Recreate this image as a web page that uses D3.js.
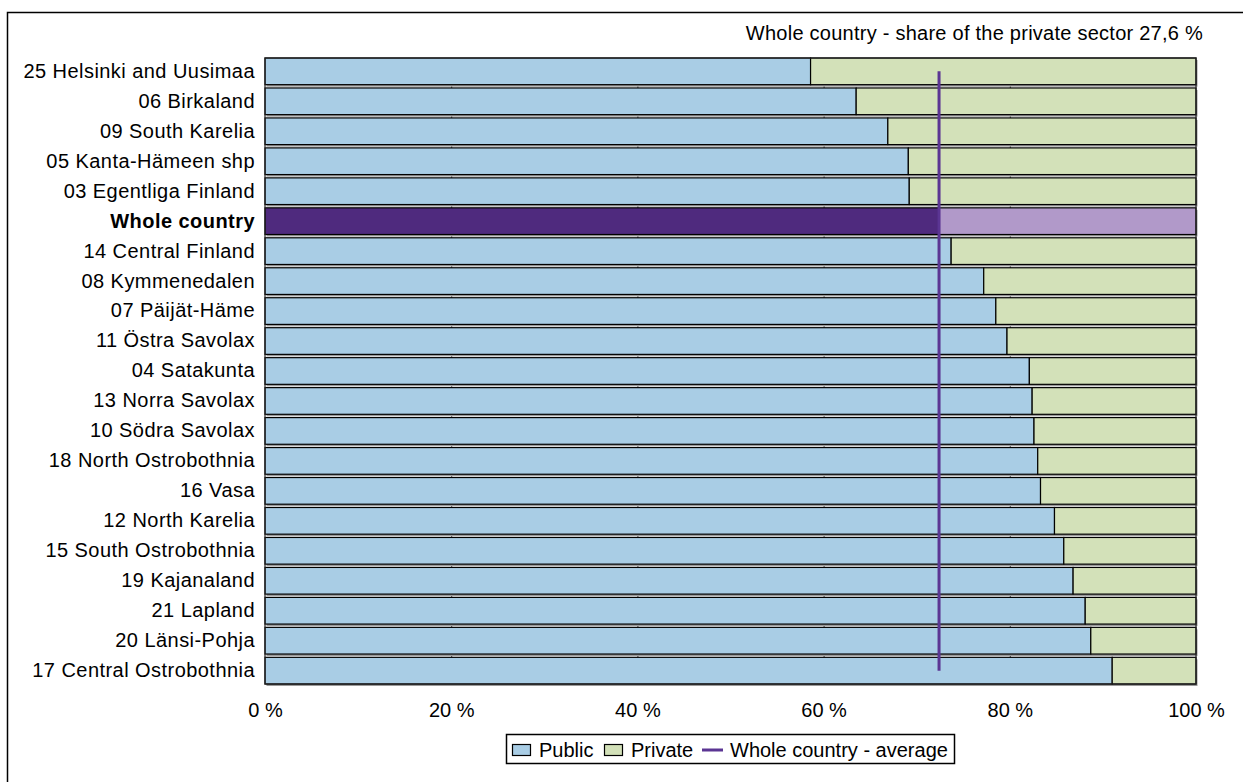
<!DOCTYPE html>
<html>
<head>
<meta charset="utf-8">
<script src="https://cdn.jsdelivr.net/npm/d3@7"></script>
<style>
  body { margin: 0; background: #fff; }
  svg text { font-family: Arial, "Liberation Sans", sans-serif; fill: #000; }
</style>
</head>
<body>
<div id="chart"></div>
<script>
// regions, top to bottom as in the picture
const categories = [
    '25 Helsinki and Uusimaa', '06 Birkaland', '09 South Karelia', '05 Kanta-Hämeen shp',
    '03 Egentliga Finland', 'Whole country', '14 Central Finland', '08 Kymmenedalen',
    '07 Päijät-Häme', '11 Östra Savolax', '04 Satakunta', '13 Norra Savolax',
    '10 Södra Savolax', '18 North Ostrobothnia', '16 Vasa', '12 North Karelia',
    '15 South Ostrobothnia', '19 Kajanaland', '21 Lapland', '20 Länsi-Pohja',
    '17 Central Ostrobothnia'
];
// public sector share, %
const publicShare = [
    58.6, 63.5, 66.9, 69.1, 69.2, 72.4, 73.7, 77.2, 78.5, 79.7, 82.1, 82.4,
    82.6, 83.0, 83.3, 84.8, 85.8, 86.8, 88.1, 88.7, 91.0
];
// private sector share, %
const privateShare = [
    41.4, 36.5, 33.1, 30.9, 30.8, 27.6, 26.3, 22.8, 21.5, 20.3, 17.9, 17.6,
    17.4, 17.0, 16.7, 15.2, 14.2, 13.2, 11.9, 11.3, 9.0
];
const averageShare = 72.4;
const xTicks = [0, 20, 40, 60, 80, 100];
const highlight = 'Whole country';
const titleText = 'Whole country - share of the private sector 27,6 %';
const legendItems = ['Public', 'Private', 'Whole country - average'];

let width = 1243,
    height = 782,
    margin = {top: 58, left: 265, right: 47, bottom: 98};

let colors = {
    pub: '#a9cde5', priv: '#d3e1b9',
    pubHi: '#4f2a7e', privHi: '#b199c9',
    line: '#5b3593'
};

let svg = d3.select('#chart')
    .append('svg')
    .attr('width', width)
    .attr('height', height);

// outer frame (runs off the right / bottom edge like the original)
svg.append('rect')
    .attr('x', 7.5).attr('y', 12.5)
    .attr('width', 1300).attr('height', 900)
    .attr('fill', 'none')
    .attr('stroke', '#000')
    .attr('stroke-width', 1.5);

let xScale = d3.scaleLinear()
    .domain([0, 100])
    .range([margin.left, width - margin.right]);

let yScale = d3.scaleBand()
    .domain(categories)
    .range([margin.top, height - margin.bottom])
    .paddingInner(0.11)
    .paddingOuter(0);

let rows = categories.map((c, i) => ({cat: c, pub: publicShare[i], priv: privateShare[i]}));

// gridlines
svg.append('g')
    .selectAll('line')
    .data(xTicks.slice(1, -1)).enter()
    .append('line')
    .attr('x1', d => xScale(d) + 0.5).attr('x2', d => xScale(d) + 0.5)
    .attr('y1', margin.top).attr('y2', height - margin.bottom)
    .attr('stroke', '#444')
    .attr('stroke-width', 1);

// bar shadows
svg.append('g')
    .selectAll('rect')
    .data(rows).enter()
    .append('rect')
    .attr('x', xScale(0) + 1.5)
    .attr('y', d => yScale(d.cat) + 2)
    .attr('width', xScale(100) - xScale(0))
    .attr('height', yScale.bandwidth())
    .attr('fill', '#9a9a9a');

// public part
svg.append('g')
    .selectAll('rect')
    .data(rows).enter()
    .append('rect')
    .attr('x', xScale(0))
    .attr('y', d => yScale(d.cat))
    .attr('width', d => xScale(d.pub) - xScale(0))
    .attr('height', yScale.bandwidth())
    .attr('fill', d => d.cat === highlight ? colors.pubHi : colors.pub)
    .attr('stroke', '#000')
    .attr('stroke-width', 1.2);

// private part
svg.append('g')
    .selectAll('rect')
    .data(rows).enter()
    .append('rect')
    .attr('x', d => xScale(d.pub))
    .attr('y', d => yScale(d.cat))
    .attr('width', d => xScale(d.pub + d.priv) - xScale(d.pub))
    .attr('height', yScale.bandwidth())
    .attr('fill', d => d.cat === highlight ? colors.privHi : colors.priv)
    .attr('stroke', '#000')
    .attr('stroke-width', 1.2);

// plot border
svg.append('rect')
    .attr('x', xScale(0)).attr('y', margin.top)
    .attr('width', xScale(100) - xScale(0))
    .attr('height', height - margin.bottom - margin.top)
    .attr('fill', 'none')
    .attr('stroke', '#222')
    .attr('stroke-width', 1.2);

// whole country average line
let line = d3.line()
    .x(() => xScale(averageShare))
    .y(d => yScale(d) + yScale.bandwidth() / 2);

svg.append('path')
    .datum([categories[0], categories[categories.length - 1]])
    .attr('d', line)
    .attr('fill', 'none')
    .attr('stroke', colors.line)
    .attr('stroke-width', 3);

// X axis
let xAxis = svg.append('g')
    .attr('transform', `translate(0,${height - margin.bottom})`)
    .call(d3.axisBottom(xScale).tickValues(xTicks).tickSize(0).tickPadding(19).tickFormat(d => d + ' %'));
xAxis.select('.domain').remove();
xAxis.selectAll('text').style('font-size', '20px');

// Y axis
let yAxis = svg.append('g')
    .attr('transform', `translate(${margin.left},0)`)
    .call(d3.axisLeft(yScale).tickSize(0).tickPadding(10));
yAxis.select('.domain').remove();
yAxis.selectAll('text')
    .style('font-size', '20px')
    .style('letter-spacing', '0.45px')
    .style('font-weight', d => d === highlight ? 'bold' : 'normal');

// title
svg.append('text')
    .attr('x', 1203).attr('y', 40)
    .attr('text-anchor', 'end')
    .style('font-size', '20px')
    .style('letter-spacing', '0.25px')
    .text(titleText);

// legend
let legend = svg.append('g');
legend.append('rect')
    .attr('x', 506.5).attr('y', 734.5)
    .attr('width', 448).attr('height', 29)
    .attr('fill', '#fff')
    .attr('stroke', '#000')
    .attr('stroke-width', 1.5);

let legendX = [512, 604, 702];
let textX = [539, 631, 730];
[colors.pub, colors.priv].forEach((c, i) => {
    legend.append('rect')
        .attr('x', legendX[i] + 0.5).attr('y', 744.5)
        .attr('width', 18).attr('height', 11)
        .attr('fill', c)
        .attr('stroke', '#000')
        .attr('stroke-width', 1.2);
});
legend.append('line')
    .attr('x1', legendX[2]).attr('x2', legendX[2] + 21)
    .attr('y1', 750).attr('y2', 750)
    .attr('stroke', colors.line)
    .attr('stroke-width', 3);
legendItems.forEach((t, i) => {
    legend.append('text')
        .attr('x', textX[i]).attr('y', 757)
        .style('font-size', '20px')
        .text(t);
});
</script>
</body>
</html>
